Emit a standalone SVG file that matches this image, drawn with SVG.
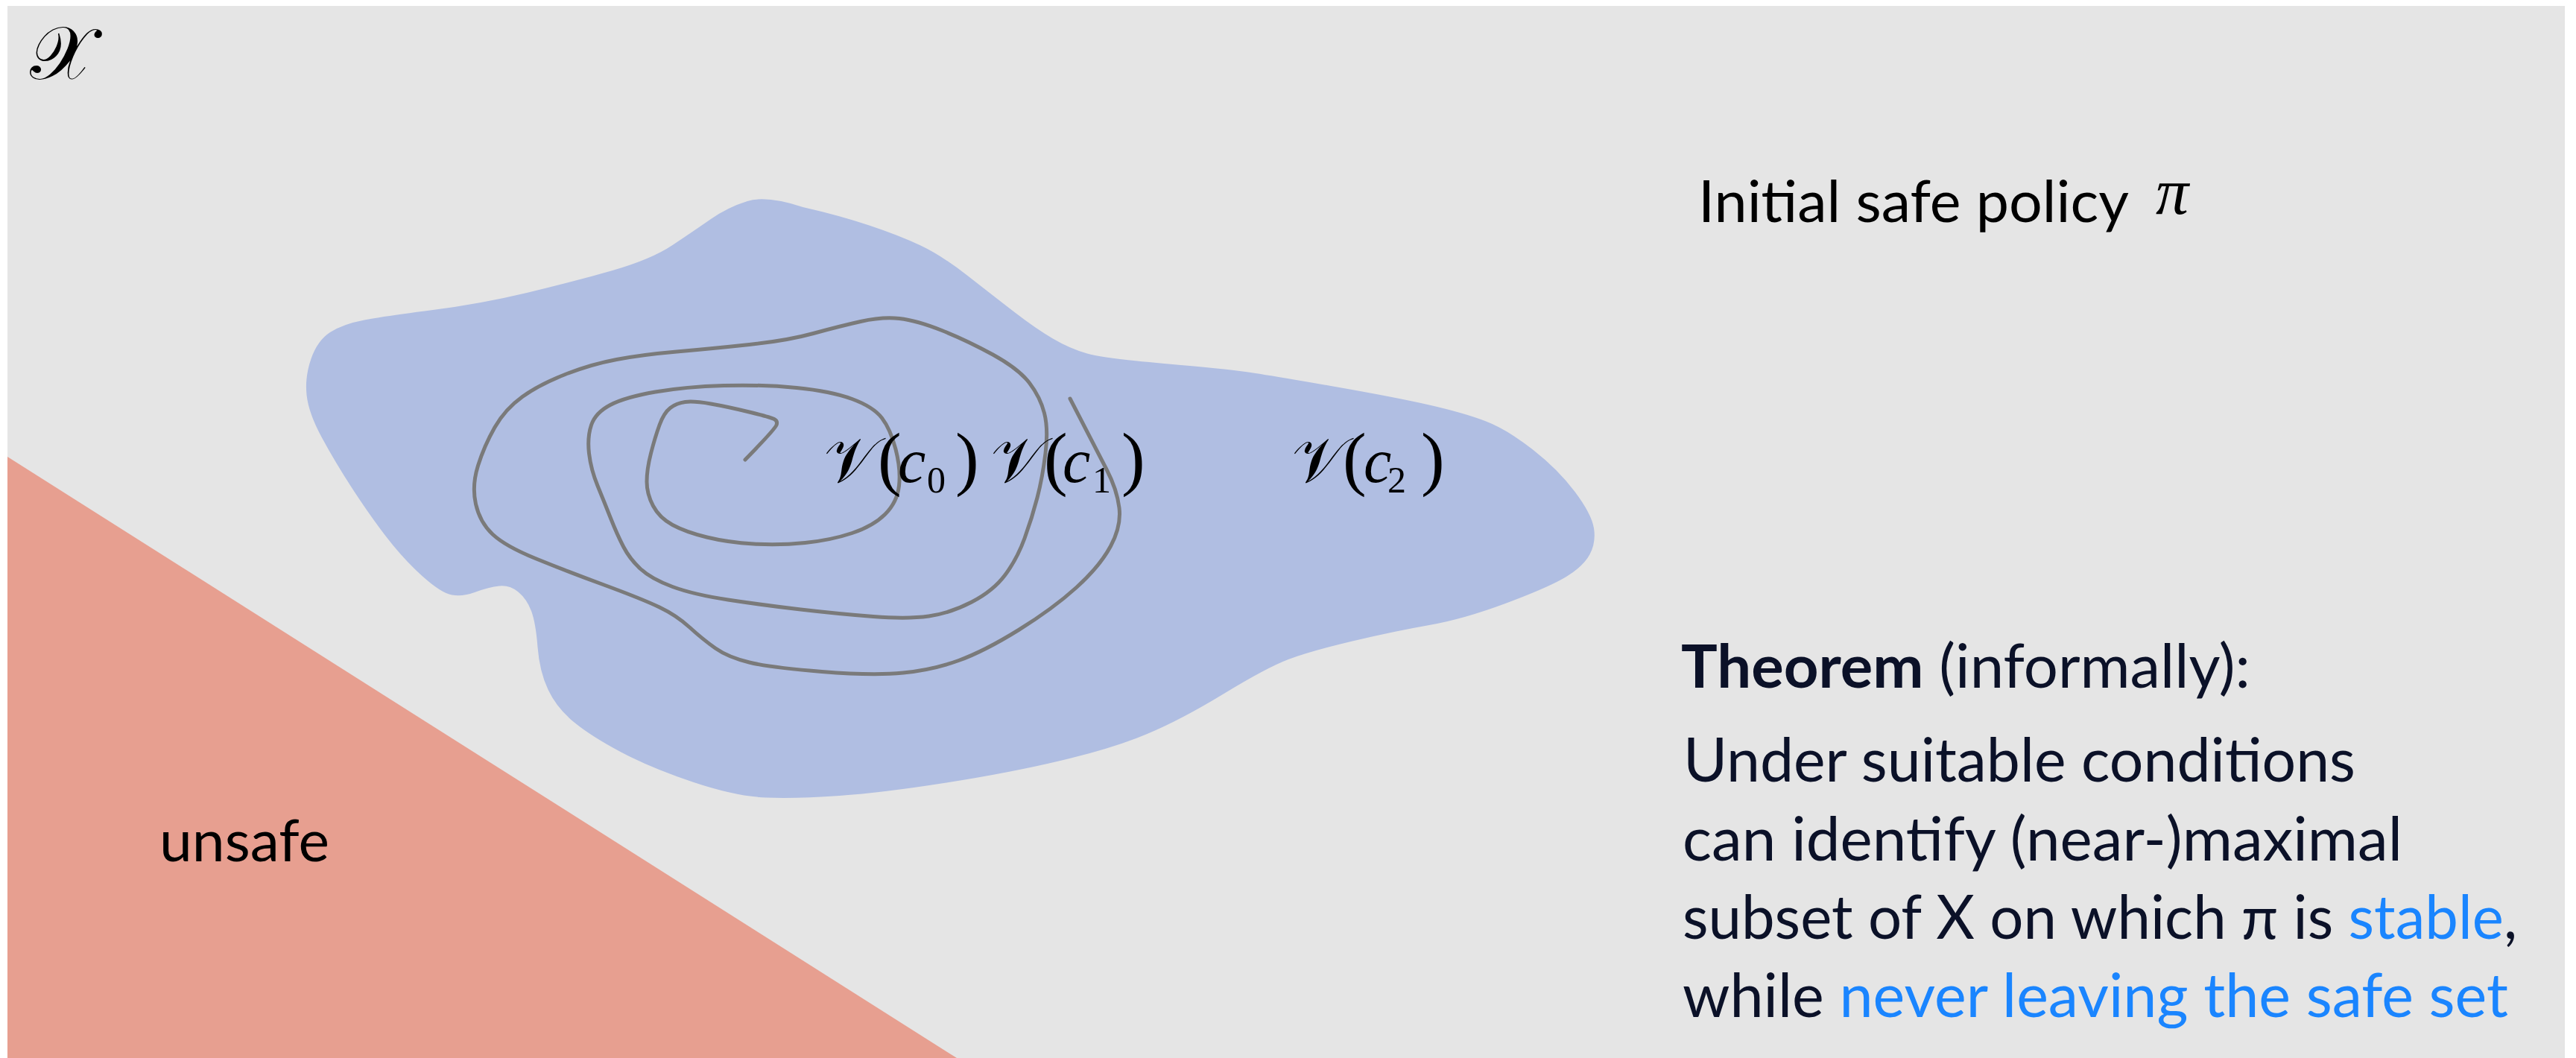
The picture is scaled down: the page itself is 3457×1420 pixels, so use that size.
<svg xmlns="http://www.w3.org/2000/svg" width="3457" height="1420" viewBox="0 0 3457 1420">
<style>
.sans{font-family:Lato,"Open Sans","Liberation Sans",sans-serif;}
.body{font-size:81px;fill:#0b1128;}
.blue{fill:#1a85ff;}
.serif{font-family:"Liberation Serif","DejaVu Serif",serif;fill:#000;}
.cal{font-family:"DejaVu Serif","Liberation Serif",serif;font-size:86px;fill:#000;}
.big{font-size:100px;}
.par{font-size:95px;}
.ci{font-size:84px;font-style:italic;}
.sub{font-size:50px;}
.lbl{font-size:77px;fill:#000;}
</style>
<rect x="0" y="0" width="3457" height="1420" fill="#ffffff"/>
<rect id="space" x="10" y="8" width="3432" height="1412" fill="#e5e5e5"/>
<g id="unsafe-region">
<polygon points="10,613 10,1420 1284,1420" fill="#e79f90"/>
<text class="sans lbl" x="214" y="1156" textLength="228" lengthAdjust="spacingAndGlyphs">unsafe</text>
</g>
<g id="safe-region">
<path fill="#b0bee2" d="M1003,270 Q1029,262 1077.5,278 Q1126,289 1166.5,302.5 Q1207,316 1235.5,329.5 Q1264,343 1298.5,370 Q1333,397 1361.5,419 Q1390,441 1413,454.5 Q1436,468 1459,474.5 Q1482,481 1562.5,488 Q1643,495 1671.5,499 Q1700,503 1786,518 Q1872,533 1918,543.5 Q1964,554 1993,565 Q2022,576 2056.5,603 Q2091,630 2113.5,660 Q2136,690 2139,709 Q2142,728 2133.5,744 Q2125,760 2102,774 Q2079,788 2021.5,809.5 Q1964,831 1918,839 Q1872,847 1815,860.5 Q1758,874 1729,885 Q1700,896 1642.5,931 Q1585,966 1539.5,985 Q1494,1004 1425,1020.5 Q1356,1037 1270,1050.5 Q1184,1064 1126.5,1068 Q1069,1072 1028.5,1070.5 Q988,1069 931,1050 Q874,1031 833.5,1009.5 Q793,988 770,969 Q747,950 735.5,925.5 Q724,901 721.5,868.5 Q719,836 713,820 Q707,804 695.5,794.5 Q684,785 670,786.5 Q656,788 638.5,794.5 Q621,801 606.5,798.5 Q592,796 566.5,773 Q541,750 518,720 Q495,690 472,654.5 Q449,619 431.5,586.5 Q414,554 411.5,530 Q409,506 417.5,481.5 Q426,457 443,446 Q460,435 489,429.5 Q518,424 581,416 Q644,408 707,393 Q770,378 822,363 Q874,348 902.5,329 Q931,310 954,294 Q977,278 1003,270 Z"/>
</g>
<g id="trajectory">
<path fill="none" stroke="#7a7a7a" stroke-width="5" stroke-linecap="round" stroke-linejoin="round" d="M1000,617 Q1040,576 1042,570.5 Q1044,565 1039,562.5 Q1034,560 1005.5,553 Q977,546 954,542 Q931,538 919.5,539.5 Q908,541 899.5,547.5 Q891,554 885,570.5 Q879,587 873.5,608.5 Q868,630 868,646.5 Q868,663 876.5,679 Q885,695 902.5,704.5 Q920,714 948.5,721 Q977,728 1011.5,730 Q1046,732 1080.5,728.5 Q1115,725 1143.5,715.5 Q1172,706 1188,690 Q1204,674 1206.5,652 Q1209,630 1202,603 Q1195,576 1183.5,561 Q1172,546 1143.5,535.5 Q1115,525 1069,520.5 Q1023,516 971.5,517.5 Q920,519 879.5,526 Q839,533 819,543.5 Q799,554 793.5,570.5 Q788,587 790.5,608.5 Q793,630 802,652 Q811,674 819.5,695.5 Q828,717 836.5,733.5 Q845,750 859.5,763.5 Q874,777 902.5,787.5 Q931,798 977,805 Q1023,812 1074.5,818 Q1126,824 1172,827.5 Q1218,831 1246.5,827 Q1275,823 1304,808 Q1333,793 1349,771.5 Q1365,750 1375,722.5 Q1385,695 1392,668 Q1399,641 1403,608.5 Q1407,576 1401.5,554.5 Q1396,533 1381.5,514 Q1367,495 1332.5,476 Q1298,457 1264,443.5 Q1230,430 1207,427.5 Q1184,425 1155,431.5 Q1126,438 1091.5,447.5 Q1057,457 1005.5,462.5 Q954,468 908,472 Q862,476 827.5,482.5 Q793,489 758.5,502.5 Q724,516 701,532.5 Q678,549 664,573.5 Q650,598 641.5,625 Q633,652 638.5,676.5 Q644,701 661,717 Q678,733 718.5,749.5 Q759,766 810.5,785 Q862,804 885,815 Q908,826 925.5,842 Q943,858 960,870 Q977,882 1005.5,889 Q1034,896 1103,901.5 Q1172,907 1212,903 Q1252,899 1286.5,886.5 Q1321,874 1367,845.5 Q1413,817 1444.5,788.5 Q1476,760 1490.5,733 Q1505,706 1502,681.5 Q1499,657 1485,630 Q1471,603 1436,535"/>
</g>
<g id="label-space">
<text class="cal big" x="40" y="106">𝒳</text>
</g>
<g id="level-set-0">
<text class="cal" x="1106" y="647">𝒱</text>
<text class="serif par" x="1178" y="647">(</text>
<text class="serif ci" x="1205" y="647">c</text>
<text class="serif sub" x="1244" y="661">0</text>
<text class="serif par" x="1282" y="647">)</text>
</g>
<g id="level-set-1">
<text class="cal" x="1330" y="647">𝒱</text>
<text class="serif par" x="1401" y="647">(</text>
<text class="serif ci" x="1426" y="647">c</text>
<text class="serif sub" x="1466" y="661">1</text>
<text class="serif par" x="1505" y="647">)</text>
</g>
<g id="level-set-2">
<text class="cal" x="1734" y="647">𝒱</text>
<text class="serif par" x="1802" y="647">(</text>
<text class="serif ci" x="1830" y="647">c</text>
<text class="serif sub" x="1862" y="661">2</text>
<text class="serif par" x="1907" y="647">)</text>
</g>
<g id="policy-label">
<text class="sans lbl" x="2279" y="298" textLength="578" lengthAdjust="spacingAndGlyphs">Initial safe policy</text>
<text class="serif" x="2893" y="287" font-size="88" font-style="italic">π</text>
</g>
<g id="theorem">
<text class="sans body" x="2256" y="923" textLength="764" lengthAdjust="spacingAndGlyphs"><tspan font-weight="bold">Theorem</tspan> (informally):</text>
<text class="sans body" x="2259" y="1049" textLength="902" lengthAdjust="spacingAndGlyphs">Under suitable conditions</text>
<text class="sans body" x="2258" y="1155" textLength="966" lengthAdjust="spacingAndGlyphs">can identify (near-)maximal</text>
<text class="sans body" x="2258" y="1260" textLength="1120" lengthAdjust="spacingAndGlyphs">subset of X on which π is <tspan class="blue">stable</tspan>,</text>
<text class="sans body" x="2258" y="1365" textLength="1108" lengthAdjust="spacingAndGlyphs">while <tspan class="blue">never leaving the safe set</tspan></text>
</g>
</svg>
